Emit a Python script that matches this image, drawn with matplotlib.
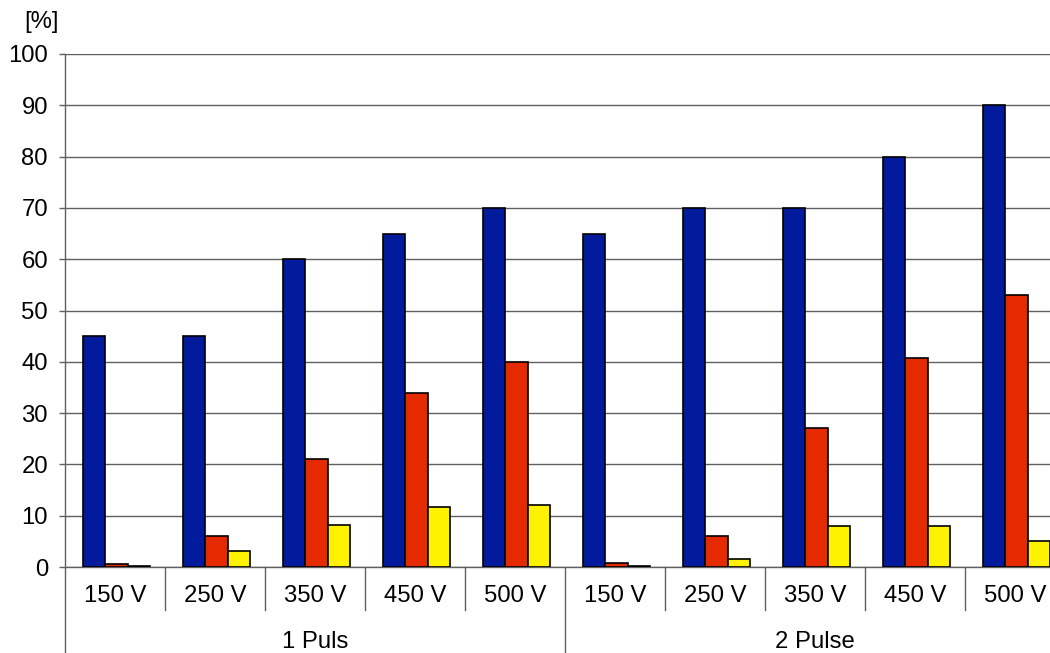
import matplotlib
matplotlib.use("Agg")
import matplotlib.pyplot as plt
from matplotlib.lines import Line2D
import numpy as np

plt.rcParams['font.family'] = ['Liberation Sans', 'DejaVu Sans']

voltages = ["150 V", "250 V", "350 V", "450 V", "500 V"]
groups = ["1 Puls", "2 Pulse"]

blue_vals = [45, 45, 60, 65, 70, 65, 70, 70, 80, 90]
red_vals = [0.5, 6, 21, 34, 40, 0.8, 6, 27, 40.7, 53]
yellow_vals = [0.2, 3.2, 8.2, 11.7, 12, 0.2, 1.6, 8, 8, 5]

y_ticks = [0, 10, 20, 30, 40, 50, 60, 70, 80, 90, 100]

W, H = 1050, 653
fig = plt.figure(figsize=(W / 100, H / 100), dpi=100)
# the plot area runs slightly past the right edge of the canvas
ax = fig.add_axes([65 / W, 1 - 567 / H, 1000 / W, (567 - 54) / H])

n = len(blue_vals)
x = np.arange(n) + 0.015
bw = 0.225
fs = 17.2

ax.bar(x - bw, blue_vals, bw, color='#021A9C', edgecolor='black', linewidth=1.2, zorder=3)
ax.bar(x, red_vals, bw, color='#E62A00', edgecolor='black', linewidth=1.2, zorder=3)
ax.bar(x + bw, yellow_vals, bw, color='#FFF200', edgecolor='black', linewidth=1.2, zorder=3)

ax.set_xlim(-0.5, n - 0.5)
ax.set_ylim(0, 100)
ax.set_yticks(y_ticks)
ax.set_yticklabels([str(v) for v in y_ticks], fontsize=fs)
ax.tick_params(axis='y', length=4.3, color='#606060', width=1, pad=8)
ax.set_xticks([])
ax.yaxis.grid(True, color='#606060', linewidth=1, zorder=0)
ax.set_axisbelow(True)

for side in ['top', 'right']:
    ax.spines[side].set_visible(False)
ax.spines['left'].set_color('#606060')
ax.spines['bottom'].set_color('#606060')
ax.spines['left'].set_linewidth(1)
ax.spines['bottom'].set_linewidth(1)

# category and group labels below the axis
tr = ax.get_xaxis_transform()
labels = voltages * len(groups)
for i, lab in enumerate(labels):
    ax.text(i, -0.057, lab, transform=tr, ha='center', va='center', fontsize=fs)

per = len(voltages)
for g, name in enumerate(groups):
    center = g * per + (per - 1) / 2
    ax.text(center, -0.147, name, transform=tr, ha='center', va='center', fontsize=fs)

# separators between categories and groups
for i in range(n + 1):
    xb = i - 0.5
    if i % per == 0:
        y_end = -0.2
    else:
        y_end = -0.084
    ax.add_line(Line2D([xb, xb], [0, y_end], transform=tr, color='#606060',
                       linewidth=1, clip_on=False))

fig.text(42 / W, 1 - 22 / H, "[%]", ha='center', va='center', fontsize=fs)

fig.savefig("out.png", dpi=100)
